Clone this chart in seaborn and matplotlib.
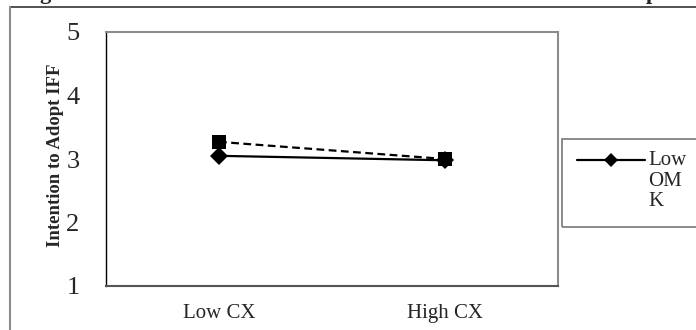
import matplotlib
matplotlib.use("Agg")
import matplotlib.pyplot as plt
import seaborn as sns
import pandas as pd
from matplotlib.lines import Line2D
from matplotlib.patches import Rectangle

# values
categories = ["Low CX", "High CX"]
low_omk = [3.05, 2.98]
high_omk = [3.27, 3.00]
y_ticks = [1, 2, 3, 4, 5]

df = pd.DataFrame({
    "CX": categories * 2,
    "Intention": low_omk + high_omk,
    "OMK": ["Low OMK"] * 2 + ["High OMK"] * 2,
})

sns.set_style("white")
plt.rcParams["font.family"] = ["Liberation Serif", "DejaVu Serif"]

W, H = 696, 330
fig = plt.figure(figsize=(W / 100, H / 100), dpi=100)


def fx(x):
    return x / W


def fy(y):
    return 1 - y / H


ax = fig.add_axes([fx(106), fy(286), fx(558) - fx(106), fy(32) - fy(286)])

sns.lineplot(data=df, x="CX", y="Intention", hue="OMK", style="OMK",
             palette={"Low OMK": "black", "High OMK": "black"},
             markers={"Low OMK": "D", "High OMK": "s"},
             dashes={"Low OMK": "", "High OMK": (3.5, 2)},
             markersize=10, linewidth=1.6, markeredgewidth=0,
             sort=False, legend=False, ax=ax)
# marker sizes per series
for line in ax.get_lines():
    if line.get_marker() == "D":
        line.set_markersize(9)

ax.set_xlim(-0.5, 1.5)
ax.set_ylim(1, 5)
ax.set_yticks(y_ticks)
ax.set_yticklabels([str(v) for v in y_ticks], fontsize=19)
ax.set_xticks([-0.5, 0.5, 1.5], minor=False)
ax.set_xticklabels([])
ax.set_xticks([0, 1], minor=True)
ax.set_xticklabels(categories, minor=True, fontsize=15)
ax.tick_params(axis="x", which="minor", length=0, pad=13)
ax.tick_params(axis="x", which="major", direction="out", length=5, width=1, color="#444444")
ax.tick_params(axis="y", direction="out", length=7, width=1, color="black", pad=12)
ax.set_xlabel("")
ax.set_ylabel("Intention to Adopt IFF", fontsize=13.5, fontweight="bold")
ax.yaxis.set_label_coords((64 - 106) / (558 - 106), 0.515)

for side in ["top", "right"]:
    ax.spines[side].set_color("#8c8c8c")
    ax.spines[side].set_linewidth(1.5)
ax.spines["left"].set_color("black")
ax.spines["left"].set_linewidth(1.0)
ax.spines["bottom"].set_color("#555555")
ax.spines["bottom"].set_linewidth(1.5)

# outer chart frame (cropped)
fig.add_artist(Line2D([fx(10), 1], [fy(7), fy(7)], color="#333333", lw=1.2))
fig.add_artist(Line2D([fx(10), fx(10)], [fy(7), 0], color="#8c8c8c", lw=1.5))

# cropped title (only descenders visible)
fig.text(fx(20), fy(-1), "Figure 2: Interaction Effect of CX and OMK on Intention to Adopt",
         fontsize=16.3, fontweight="bold", va="baseline", ha="left")

# legend box (cropped on the right)
fig.add_artist(Rectangle((fx(562), fy(227)), 1 - fx(562) + 0.01, fy(139) - fy(227),
                         transform=fig.transFigure, fill=False, edgecolor="#777777", lw=1.2))
fig.add_artist(Line2D([fx(577), fx(645)], [fy(160), fy(160)], color="black", lw=1.6))
fig.add_artist(Line2D([fx(611)], [fy(160)], color="black", marker="D", markersize=7,
                      markeredgewidth=0))
fig.text(fx(648), fy(151), "Low\nOM\nK", fontsize=15, va="top", ha="left",
         linespacing=1.12)

fig.savefig("out.png", dpi=100)
